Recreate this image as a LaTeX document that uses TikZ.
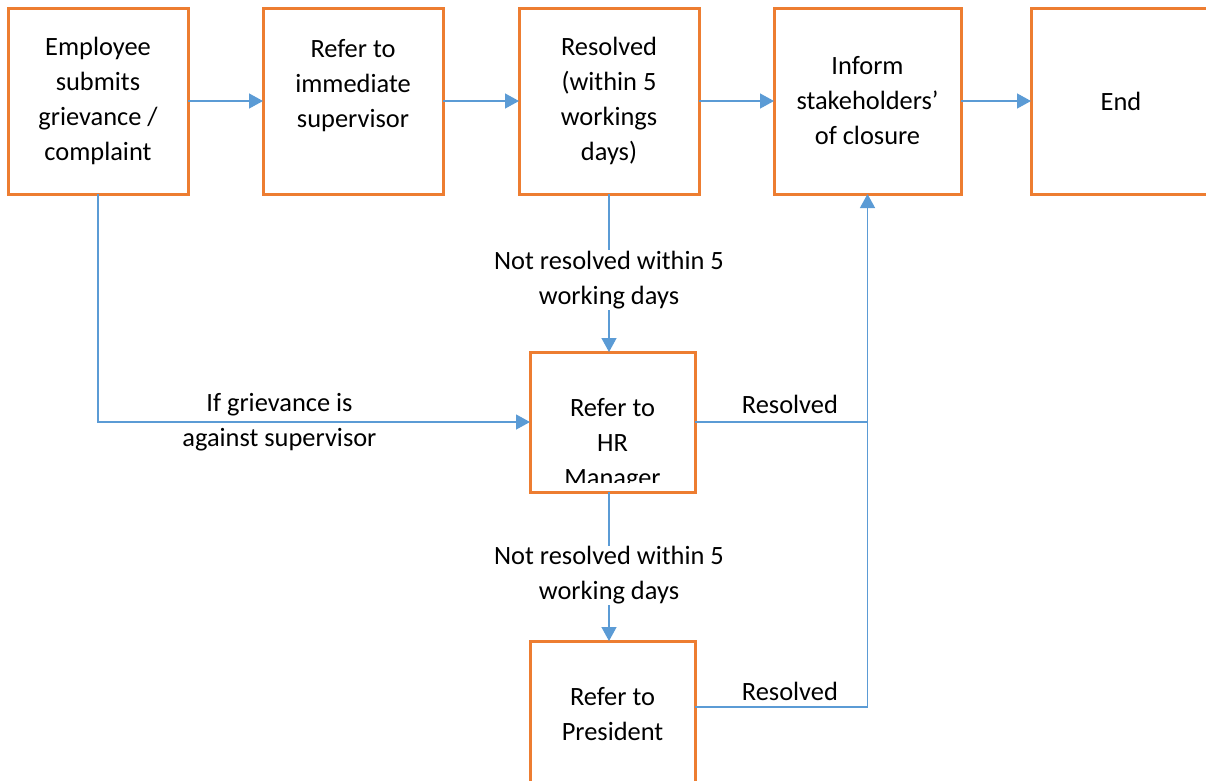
\documentclass[tikz,border=0pt]{standalone}
\usepackage{fontspec}
\setmainfont{Carlito}
\usepackage{xcolor}
\usetikzlibrary{positioning, arrows.meta}
\definecolor{boxorange}{HTML}{ED7D31}
\definecolor{lineblue}{HTML}{5B9BD5}
\newcommand{\boxfont}{\fontsize{26.4pt}{35pt}\selectfont}
\tikzset{
    stepbox/.style={rectangle, draw=boxorange, line width=3pt, fill=white, align=center, minimum width=180pt, minimum height=186pt, inner sep=0pt, outer sep=0pt, font=\boxfont},
    smallbox/.style={stepbox, minimum width=165pt, minimum height=140pt},
    arrow/.style={-{Triangle[length=14pt, width=15pt]}, draw=lineblue, line width=1.3pt},
    link/.style={draw=lineblue, line width=1.3pt},
    note/.style={font=\boxfont, align=center, inner sep=1pt}
}

\begin{document}
\begin{tikzpicture}[x=1pt, y=-1pt]
    \useasboundingbox (0,0) rectangle (1206,780);

    % Top row
    \node[stepbox] (emp) at (98,101) {Employee\\submits\\grievance /\\complaint};
    \node[stepbox, right=75pt of emp] (sup) {Refer to\\immediate\\supervisor\\\mbox{}};
    \node[stepbox, right=76pt of sup] (res) {Resolved\\(within 5\\workings\\days)};
    \node[stepbox, minimum width=187pt, right=75pt of res] (inform) {Inform\\stakeholders’\\of closure};
    \node[stepbox, right=70pt of inform] (end) {End};

    % Escalation
    \node[smallbox, below=158pt of res, xshift=3.5pt] (hr) {};
    \begin{scope}
        \clip ([yshift=10pt]hr.south west) rectangle (hr.north east);
        \node[note, yshift=-23pt] (hrtext) at (hr) {Refer to\\HR\\Manager};
    \end{scope}
    \node[smallbox, minimum height=146pt, below=149pt of hr] (pres) {Refer to\\President};
    \coordinate (presout) at ([yshift=7pt]pres.east);

    % Connectors
    \draw[arrow] (emp) -- (sup);
    \draw[arrow] (sup) -- (res);
    \draw[arrow] (res) -- (inform);
    \draw[arrow] (inform) -- (end);
    \draw[arrow] (res.south) -- (res.south |- hr.north)
        node[note, fill=white, midway, yshift=-7pt] {Not resolved within 5\\working days};
    \draw[arrow] (hr.south -| res.south) -- (pres.north -| res.south)
        node[note, fill=white, midway, yshift=-9pt] {Not resolved within 5\\working days};
    \draw[arrow] (emp.south) |- (hr.west)
        node[note, pos=0.71] {If grievance is\\against supervisor};
    \draw[link] (hr.east) -- (hr.east -| inform.south)
        node[note, pos=0.55, above=7pt] {Resolved};
    \draw[arrow] (presout) -- (presout -| inform.south)
        node[note, pos=0.55, above=5pt] {Resolved} -- (inform.south);
\end{tikzpicture}
\end{document}
